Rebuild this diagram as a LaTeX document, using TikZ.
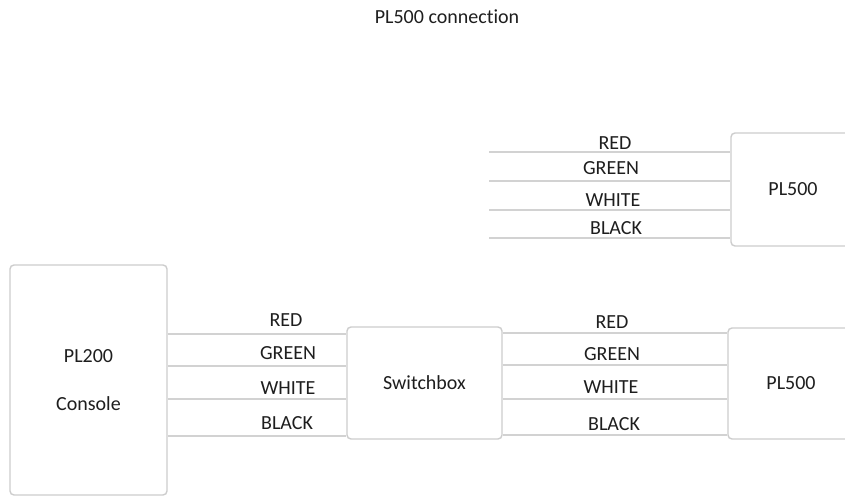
\documentclass[tikz,border=0pt]{standalone}
\usepackage{fontspec}
\setmainfont{Carlito}[Ligatures={NoCommon}]
\definecolor{boxgray}{RGB}{205,205,205}
\definecolor{wiregray}{RGB}{210,210,210}
\definecolor{txt}{RGB}{30,30,30}
\begin{document}
\begin{tikzpicture}[x=1pt,y=-1pt,
  box/.style={draw=boxgray,line width=1.4pt,rounded corners=4pt,inner sep=0pt,text=txt,
    font=\fontsize{20}{48}\selectfont,align=center},
  wire/.style={draw=wiregray,line width=1.4pt},
  lbl/.style={text=txt,font=\fontsize{20}{24}\selectfont,inner sep=0pt}]
\useasboundingbox (0,0) rectangle (845,497);
\clip (0,0) rectangle (845,497);
\fill[white] (0,0) rectangle (845,497);
\node[lbl] (title) at (447,17) {PL500 connection};
% boxes
\node[box,minimum width=157pt,minimum height=230pt] (pl200) at (88.5,380) {PL200\\Console};
\node[box,minimum width=155pt,minimum height=112pt] (sw) at (424.5,383) {Switchbox};
\node[box,minimum width=126pt,minimum height=111pt] (pl500b) at (791,383.5) {PL500};
\node[box,minimum width=124pt,minimum height=113pt] (pl500a) at (793,189.5) {PL500};
% wire heights
\coordinate (l1) at (0,334); \coordinate (l2) at (0,366);
\coordinate (l3) at (0,399); \coordinate (l4) at (0,436);
\coordinate (r1) at (0,333); \coordinate (r2) at (0,365);
\coordinate (r3) at (0,399); \coordinate (r4) at (0,435);
\coordinate (u1) at (489,152); \coordinate (u2) at (489,181);
\coordinate (u3) at (489,210); \coordinate (u4) at (489,238);
% left wires
\foreach \w in {l1,l2,l3,l4}
  \draw[wire] (pl200.east |- \w) -- (sw.west |- \w);
% right wires
\foreach \w in {r1,r2,r3,r4}
  \draw[wire] (sw.east |- \w) -- (pl500b.west |- \w);
% upper wires
\foreach \w in {u1,u2,u3,u4}
  \draw[wire] (\w) -- (pl500a.west |- \w);
% labels left
\node[lbl] (lred) at (286,320) {RED};
\node[lbl] (lgreen) at (288,353) {GREEN};
\node[lbl] (lwhite) at (288,388) {WHITE};
\node[lbl] (lblack) at (287,423) {BLACK};
% labels right
\node[lbl] (rred) at (612,322) {RED};
\node[lbl] (rgreen) at (612,354) {GREEN};
\node[lbl] (rwhite) at (611,387) {WHITE};
\node[lbl] (rblack) at (614,424) {BLACK};
% labels upper
\node[lbl] (ured) at (615,143) {RED};
\node[lbl] (ugreen) at (611,168) {GREEN};
\node[lbl] (uwhite) at (613,200) {WHITE};
\node[lbl] (ublack) at (616,228) {BLACK};
\end{tikzpicture}
\end{document}
